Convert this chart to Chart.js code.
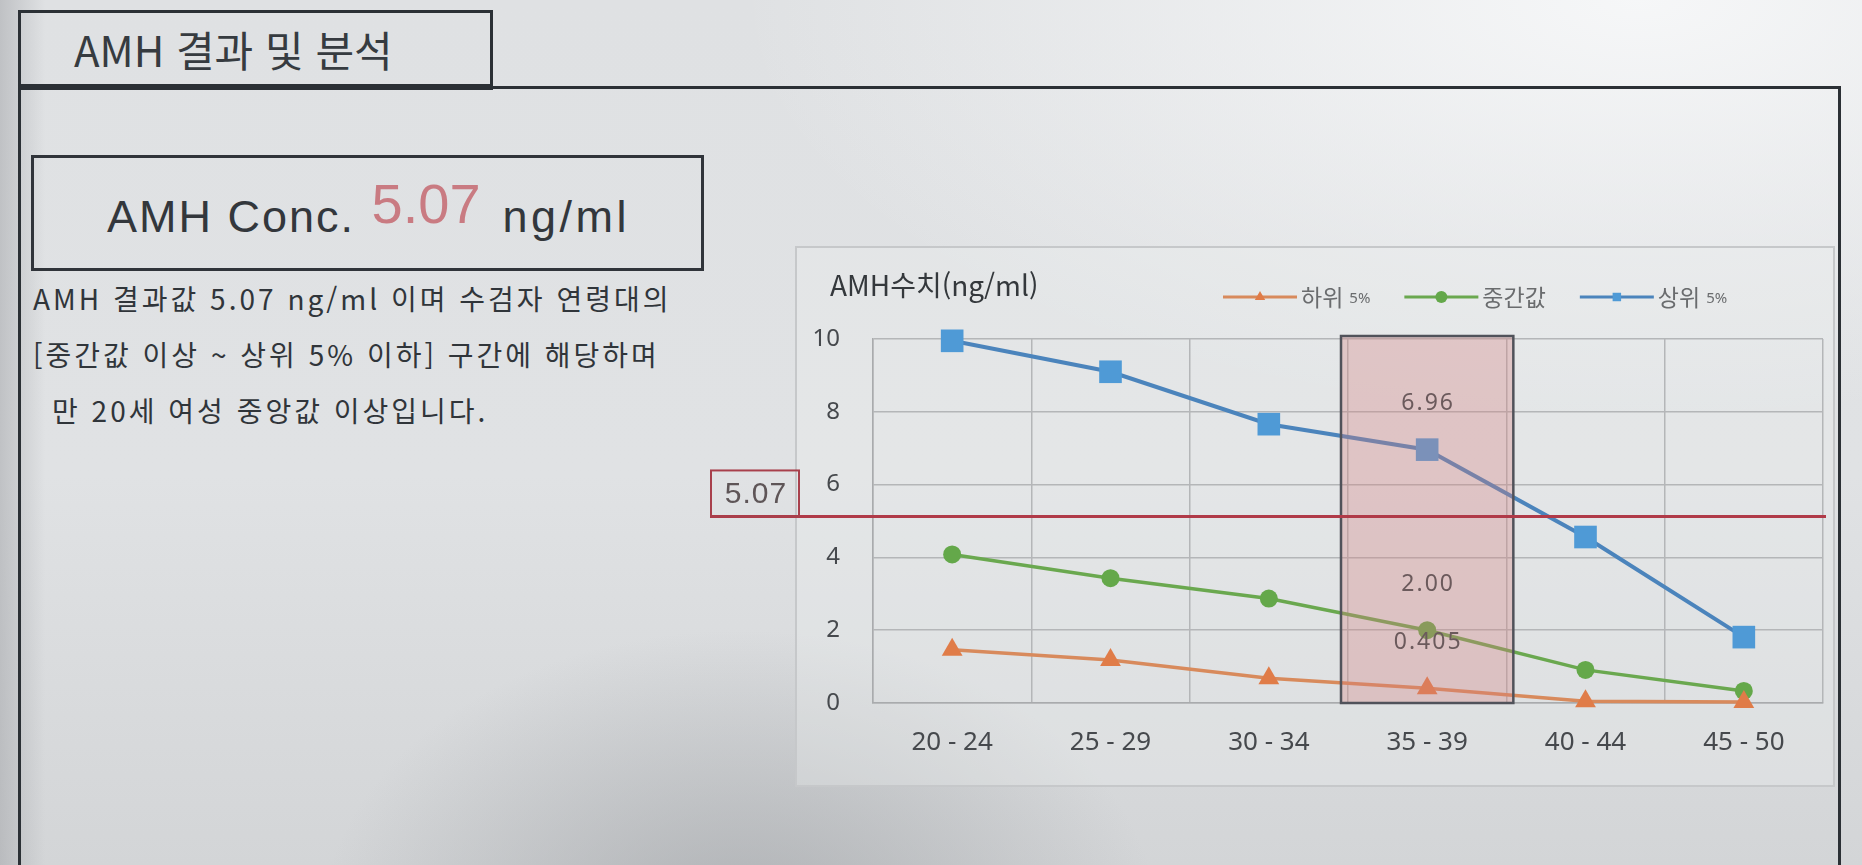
<!DOCTYPE html>
<html lang="ko">
<head>
<meta charset="utf-8">
<title>AMH 결과 및 분석</title>
<script src="https://cdn.jsdelivr.net/npm/chart.js@4.4.1/dist/chart.umd.min.js"></script>
<style>
  html, body { margin: 0; padding: 0; }
  body {
    width: 1862px; height: 865px; overflow: hidden; position: relative;
    font-family: "Noto Sans CJK KR", "Noto Sans", sans-serif;
    color: #2f3438;
    background:
      radial-gradient(ellipse 420px 300px at 740px 930px, rgba(150,153,157,0.6), rgba(150,153,157,0)),
      linear-gradient(90deg, rgba(160,162,166,0.5) 0px, rgba(160,162,166,0) 45px),
      radial-gradient(ellipse 900px 420px at 88% 0%, rgba(247,248,249,0.95), rgba(247,248,249,0)),
      linear-gradient(180deg, #dfe1e3 0%, #e0e2e4 55%, #d3d5d7 100%);
  }
  .abs { position: absolute; box-sizing: border-box; }
  .tab { left: 18px; top: 10px; width: 475px; height: 80px; border: 3px solid #2b3035; border-bottom-width: 6px; }
  .hline { left: 18px; top: 86px; width: 1823px; height: 3px; background: #2b3035; }
  .vline { top: 86px; width: 3px; height: 800px; background: #2b3035; }
  .title { left: 74px; top: 28px; font-size: 42px; line-height: 42px; color: #363b40; white-space: nowrap; }
  .conc { left: 31px; top: 155px; width: 673px; height: 116px; border: 3px solid #30343a; }
  .conc-text {
    left: 107px; top: 187px; font-family: "Liberation Sans", Arial, sans-serif;
    font-size: 45px; line-height: 60px; letter-spacing: 2px; color: #33373c; white-space: nowrap;
  }
  .conc-text .val { font-size: 56px; line-height: 0; vertical-align: 9px; color: #c97b82; letter-spacing: 0; margin: 0 22px 0 2px; }
  .conc-text .unit { letter-spacing: 3.5px; }
  .desc { left: 33px; font-size: 28px; line-height: 56px; letter-spacing: 3px; color: #30353a; white-space: nowrap; }
  .frame { left: 795px; top: 246px; width: 1040px; height: 541px; border: 2px solid #c6c8ca; background: rgba(236,238,239,0.35); }
  #chartBox { left: 700px; top: 240px; width: 1148px; height: 555px; }
</style>
</head>
<body>
<div class="abs tab"></div>
<div class="abs hline"></div>
<div class="abs vline" style="left:18px"></div>
<div class="abs vline" style="left:1838px"></div>
<div class="abs title">AMH 결과 및 분석</div>

<div class="abs conc"></div>
<div class="abs conc-text">AMH Conc. <span class="val">5.07</span><span class="unit">ng/ml</span></div>

<div class="abs desc" style="top:270px">AMH 결과값 5.07 ng/ml 이며 수검자 연령대의</div>
<div class="abs desc" style="top:326px">[중간값 이상 ~ 상위 5% 이하] 구간에 해당하며</div>
<div class="abs desc" style="top:382px; left:52px">만 20세 여성 중앙값 이상입니다.</div>

<div class="abs frame"></div>
<div class="abs" id="chartBox"><canvas id="amhChart" width="1148" height="555"></canvas></div>

<script>
// chart data
const ageGroups = ['20-24', '25-29', '30-34', '35-39', '40-44', '45-50'];
const lower5 = [1.46, 1.18, 0.68, 0.405, 0.05, 0.03];
const median = [4.08, 3.43, 2.87, 2.00, 0.91, 0.33];
const upper5 = [9.95, 9.10, 7.66, 6.96, 4.56, 1.81];
const seriesNames = ['하위 5%', '중간값', '상위 5%'];
const yMin = 0, yMax = 10, yStep = 2;
const yTitle = 'AMH수치(ng/ml)';
const patientAMH = 5.07;
const patientGroup = '35-39';

const fmt = v => (v < 1 ? v.toFixed(3) : v.toFixed(2));

// pink band over the patient's age group + value labels + result line
const bandPlugin = {
    id: 'ageBand',
    afterDatasetsDraw(chart) {
        const { ctx, chartArea, scales: { x, y } } = chart;
        const idx = ageGroups.indexOf(patientGroup);
        const cx = x.getPixelForValue(idx);
        const half = x.width / ageGroups.length / 2 + 7;
        const top = chartArea.top - 3;
        const h = chartArea.bottom - top;

        ctx.save();
        ctx.fillStyle = 'rgba(214, 128, 128, 0.33)';
        ctx.fillRect(cx - half, top, half * 2, h);
        ctx.strokeStyle = '#50525a';
        ctx.lineWidth = 2.5;
        ctx.strokeRect(cx - half, top, half * 2, h);

        ctx.font = '23px "Noto Sans"';
        ctx.fillStyle = '#6b5a5c';
        ctx.textAlign = 'center';
        ctx.textBaseline = 'middle';
        ctx.letterSpacing = '2px';
        chart.data.datasets.forEach(ds => {
            const v = ds.data[idx];
            ctx.fillText(fmt(v), cx + 1, y.getPixelForValue(v) - 46);
        });

        // result line with its value box on the left
        const py = y.getPixelForValue(patientAMH) - 2;
        ctx.strokeStyle = '#b03a48';
        ctx.lineWidth = 3;
        ctx.beginPath();
        ctx.moveTo(10, py);
        ctx.lineTo(chartArea.right + 3, py);
        ctx.stroke();

        ctx.strokeStyle = '#a8404c';
        ctx.lineWidth = 2;
        ctx.strokeRect(11, py - 46, 88, 46);
        ctx.font = '30px "Liberation Sans"';
        ctx.fillStyle = '#5e5557';
        ctx.letterSpacing = '1px';
        ctx.fillText(patientAMH.toFixed(2), 56, py - 22);
        ctx.restore();
    }
};

// Excel-like legend (line + marker) and axis title
const legendPlugin = {
    id: 'excelLegend',
    afterDraw(chart) {
        const ctx = chart.ctx;
        ctx.save();
        ctx.font = '28px "Noto Sans CJK KR"';
        ctx.fillStyle = '#34383c';
        ctx.textAlign = 'left';
        ctx.textBaseline = 'middle';
        ctx.fillText(yTitle, 130, 45);

        let lx = 523;
        const ly = 57;
        chart.data.datasets.forEach(ds => {
            ctx.strokeStyle = ds.borderColor;
            ctx.lineWidth = 3;
            ctx.beginPath();
            ctx.moveTo(lx, ly);
            ctx.lineTo(lx + 74, ly);
            ctx.stroke();
            ctx.fillStyle = ds.pointBackgroundColor;
            Chart.helpers.drawPoint(ctx, { pointStyle: ds.pointStyle, radius: 6, rotation: 0, borderWidth: 0 }, lx + 37, ly);

            const parts = ds.label.split(' ');
            let tx = lx + 78;
            ctx.fillStyle = '#6a6c6e';
            ctx.font = '23px "Noto Sans CJK KR"';
            ctx.fillText(parts[0], tx, ly);
            tx += ctx.measureText(parts[0]).width;
            if (parts[1]) {
                tx += 6;
                ctx.font = '15px "Noto Sans"';
                ctx.fillText(parts[1], tx, ly + 2);
                tx += ctx.measureText(parts[1]).width;
            }
            lx = tx + 34;
        });
        ctx.restore();
    }
};

const ctx = document.getElementById('amhChart').getContext('2d');

new Chart(ctx, {
    type: 'line',
    data: {
        labels: ageGroups,
        datasets: [{
            label: seriesNames[0],
            data: lower5,
            borderColor: '#d88a5c',
            pointBackgroundColor: '#e07c48',
            pointBorderWidth: 0,
            pointStyle: 'triangle',
            pointRadius: 12,
            borderWidth: 3.5,
            clip: false
        }, {
            label: seriesNames[1],
            data: median,
            borderColor: '#6aa84f',
            pointBackgroundColor: '#64a84a',
            pointBorderWidth: 0,
            pointStyle: 'circle',
            pointRadius: 9,
            borderWidth: 3.5,
            clip: false
        }, {
            label: seriesNames[2],
            data: upper5,
            borderColor: '#4b84bc',
            pointBackgroundColor: '#4f9ad6',
            pointBorderWidth: 0,
            pointStyle: 'rect',
            pointRadius: 16,
            borderWidth: 4,
            clip: false
        }]
    },
    options: {
        responsive: false,
        animation: false,
        layout: { padding: { left: 0, top: 99, right: 25, bottom: 32 } },
        plugins: {
            legend: { display: false },
            tooltip: { enabled: false }
        },
        scales: {
            x: {
                offset: true,
                grid: { offset: true, color: '#b4b6b8', lineWidth: 1.5, drawTicks: false },
                border: { color: '#a9abad', width: 1.5 },
                ticks: {
                    color: '#46494d',
                    font: { size: 26, family: '"Noto Sans"' },
                    padding: 24,
                    callback: function (val) { return this.getLabelForValue(val).replace('-', ' - '); }
                },
                afterFit: s => { s.height = 60; }
            },
            y: {
                min: yMin,
                max: yMax,
                grid: { color: '#b4b6b8', lineWidth: 1.5, drawTicks: false },
                border: { color: '#a9abad', width: 1.5 },
                ticks: {
                    stepSize: yStep,
                    color: '#46494d',
                    font: { size: 24, family: '"Noto Sans"' },
                    padding: 33
                },
                afterFit: s => { s.width = 173; }
            }
        }
    },
    plugins: [bandPlugin, legendPlugin]
});
</script>
</body>
</html>
